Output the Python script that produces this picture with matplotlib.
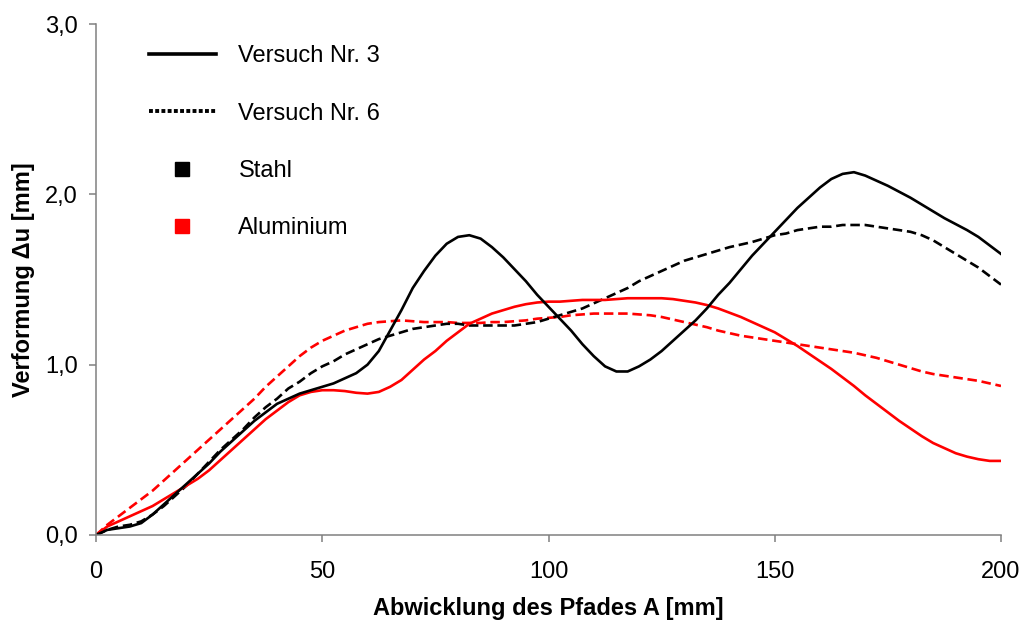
import numpy as np
import matplotlib
matplotlib.use('Agg')
import matplotlib.pyplot as plt
from matplotlib.lines import Line2D
from matplotlib.ticker import FuncFormatter

plt.rcParams['font.family'] = ['Liberation Sans', 'DejaVu Sans']

# Abwicklung des Pfades A [mm], Messpunkte alle 2,5 mm
x = np.arange(0, 202.5, 2.5)

# Stahl, Versuch Nr. 3 / Nr. 6
stahl_3 = [0.00, 0.03, 0.04, 0.05, 0.07, 0.12, 0.18, 0.24, 0.30, 0.36, 0.42, 0.49, 0.55, 0.61,
           0.67, 0.72, 0.77, 0.80, 0.83, 0.85, 0.87, 0.89, 0.92, 0.95, 1.00, 1.08, 1.20, 1.32,
           1.45, 1.55, 1.64, 1.71, 1.75, 1.76, 1.74, 1.69, 1.63, 1.56, 1.49, 1.41, 1.34, 1.27,
           1.20, 1.12, 1.05, 0.99, 0.96, 0.96, 0.99, 1.03, 1.08, 1.14, 1.20, 1.26, 1.33, 1.41,
           1.48, 1.56, 1.64, 1.71, 1.78, 1.85, 1.92, 1.98, 2.04, 2.09, 2.12, 2.13, 2.11, 2.08,
           2.05, 2.015, 1.98, 1.94, 1.90, 1.86, 1.825, 1.79, 1.75, 1.70, 1.65]
stahl_6 = [0.00, 0.03, 0.05, 0.06, 0.08, 0.12, 0.17, 0.23, 0.29, 0.36, 0.43, 0.50, 0.56, 0.62,
           0.69, 0.75, 0.80, 0.86, 0.90, 0.95, 0.99, 1.02, 1.06, 1.09, 1.12, 1.15, 1.17, 1.19,
           1.21, 1.22, 1.23, 1.24, 1.24, 1.23, 1.23, 1.23, 1.23, 1.23, 1.24, 1.25, 1.27, 1.29,
           1.31, 1.33, 1.36, 1.39, 1.42, 1.45, 1.49, 1.52, 1.55, 1.58, 1.61, 1.63, 1.65, 1.67,
           1.69, 1.705, 1.72, 1.74, 1.76, 1.77, 1.79, 1.80, 1.81, 1.81, 1.82, 1.82, 1.82, 1.81,
           1.80, 1.79, 1.78, 1.76, 1.73, 1.69, 1.65, 1.61, 1.57, 1.52, 1.47]

# Aluminium, Versuch Nr. 3 / Nr. 6
alu_3 = [0.00, 0.05, 0.08, 0.11, 0.14, 0.17, 0.21, 0.25, 0.29, 0.33, 0.38, 0.44, 0.50, 0.56,
         0.62, 0.68, 0.73, 0.78, 0.82, 0.84, 0.85, 0.85, 0.845, 0.835, 0.83, 0.84, 0.87, 0.91,
         0.97, 1.03, 1.08, 1.14, 1.19, 1.24, 1.27, 1.30, 1.32, 1.34, 1.355, 1.365, 1.37, 1.37,
         1.375, 1.38, 1.38, 1.38, 1.385, 1.39, 1.39, 1.39, 1.39, 1.385, 1.375, 1.365, 1.35, 1.33,
         1.305, 1.28, 1.25, 1.22, 1.19, 1.15, 1.11, 1.065, 1.02, 0.975, 0.925, 0.875, 0.82, 0.77,
         0.72, 0.67, 0.625, 0.58, 0.54, 0.51, 0.48, 0.46, 0.445, 0.435, 0.435]
alu_6 = [0.00, 0.06, 0.11, 0.16, 0.21, 0.26, 0.32, 0.38, 0.44, 0.50, 0.56, 0.62, 0.68, 0.74,
         0.80, 0.87, 0.93, 0.99, 1.05, 1.10, 1.14, 1.17, 1.20, 1.22, 1.24, 1.25, 1.255, 1.26,
         1.255, 1.25, 1.25, 1.25, 1.245, 1.245, 1.245, 1.25, 1.25, 1.255, 1.26, 1.27, 1.275, 1.28,
         1.29, 1.295, 1.30, 1.30, 1.30, 1.30, 1.295, 1.29, 1.28, 1.265, 1.25, 1.235, 1.22, 1.20,
         1.185, 1.17, 1.16, 1.15, 1.14, 1.13, 1.12, 1.11, 1.10, 1.09, 1.08, 1.07, 1.055, 1.04,
         1.02, 1.00, 0.98, 0.96, 0.945, 0.935, 0.925, 0.915, 0.905, 0.89, 0.875]

fs = 17
dash = (0, (3.6, 1.8))

fig = plt.figure(figsize=(10.25, 6.24), dpi=100)
ax = fig.add_axes([96 / 1025, 89 / 624, 905 / 1025, 511 / 624])

ax.plot(x, alu_6, color='#ff0000', lw=1.9, linestyle=dash)
ax.plot(x, stahl_6, color='black', lw=1.9, linestyle=dash)
ax.plot(x, alu_3, color='#ff0000', lw=1.9)
ax.plot(x, stahl_3, color='black', lw=1.9)

ax.set_xlim(0, 200)
ax.set_ylim(0, 3)
ax.set_xticks([0, 50, 100, 150, 200])
ax.set_yticks([0, 1, 2, 3])
ax.yaxis.set_major_formatter(FuncFormatter(lambda v, p: f"{v:.1f}".replace('.', ',')))

for s in ['top', 'right']:
    ax.spines[s].set_visible(False)
for s in ['left', 'bottom']:
    ax.spines[s].set_color('#808080')
    ax.spines[s].set_linewidth(1.1)
ax.tick_params(colors='#808080', labelcolor='black', labelsize=fs, length=5, width=1.1)
ax.tick_params(axis='x', pad=14)
ax.tick_params(axis='y', pad=8)

ax.set_xlabel('Abwicklung des Pfades A [mm]', fontsize=fs, fontweight='bold', labelpad=10)
ax.set_ylabel('Verformung Δu [mm]', fontsize=fs, fontweight='bold', labelpad=7.5)

handles = [
    Line2D([], [], color='black', lw=2.6),
    Line2D([], [], color='black', lw=2.8, linestyle=(0, (1.0, 0.6))),
    Line2D([], [], color='black', marker='s', markersize=10, linestyle='none'),
    Line2D([], [], color='#ff0000', marker='s', markersize=10, linestyle='none'),
]
labels = ['Versuch Nr. 3', 'Versuch Nr. 6', 'Stahl', 'Aluminium']
ax.legend(handles, labels, loc='upper left', bbox_to_anchor=(0.035, 1.0), frameon=False,
          fontsize=fs, handlelength=2.84, handletextpad=0.95, labelspacing=1.5)

fig.savefig('out.png', dpi=100)
